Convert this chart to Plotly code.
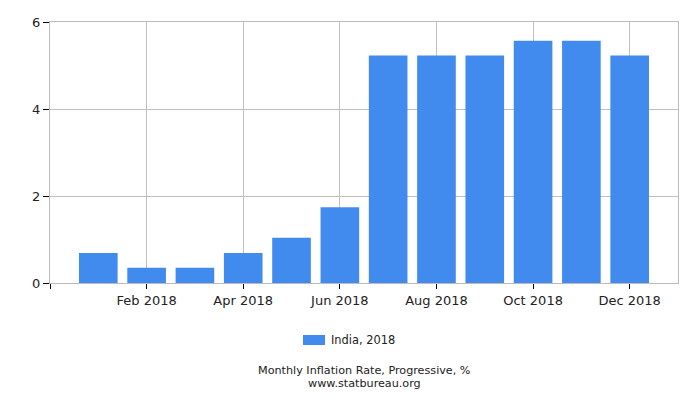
import plotly.graph_objects as go

months = [1, 2, 3, 4, 5, 6, 7, 8, 9, 10, 11, 12]
inflation = [0.69, 0.35, 0.35, 0.69, 1.04, 1.74, 5.23, 5.23, 5.23, 5.57, 5.57, 5.23]
tick_pos = [0, 2, 4, 6, 8, 10, 12]
tick_text = ["", "Feb 2018", "Apr 2018", "Jun 2018", "Aug 2018", "Oct 2018", "Dec 2018"]
bar_color = "#418bee"

fig = go.Figure()
fig.add_trace(go.Bar(x=months, y=inflation, name="India, 2018",
                     marker_color=bar_color, marker_line_width=0,
                     width=0.8, showlegend=False))

# page has an 8px body margin all round, so shrink the figure to fit the window
fig.update_layout(
    width=684, height=384,
    margin=dict(l=42, r=14, t=14, b=109),
    plot_bgcolor="white", paper_bgcolor="white",
    font=dict(family="DejaVu Sans", size=13, color="#222"),
)
fig.update_xaxes(range=[0, 13], tickvals=tick_pos, ticktext=tick_text,
                 showgrid=True, gridcolor="#c0c0c0", gridwidth=1,
                 showline=True, linecolor="#bbbbbb", mirror=True,
                 ticks="outside", ticklen=5, tickcolor="#000", zeroline=False,
                 automargin=False)
fig.update_yaxes(range=[0, 6], tickvals=[0, 2, 4, 6],
                 showgrid=True, gridcolor="#c0c0c0", gridwidth=1,
                 showline=True, linecolor="#bbbbbb", mirror=True,
                 ticks="outside", ticklen=6, tickcolor="#000", zeroline=False,
                 automargin=False)

# legend drawn by hand (wide swatch like the original)
fig.add_shape(type="rect", xref="paper", yref="paper",
              x0=0.4029, x1=0.4379, y0=-0.2375, y1=-0.1992,
              fillcolor=bar_color, line_width=0)
fig.add_annotation(text="India, 2018", xref="paper", yref="paper",
                   x=0.4443, y=-0.2184, xanchor="left", yanchor="middle",
                   showarrow=False, font=dict(size=11.4, color="#222"))

fig.add_annotation(text="Monthly Inflation Rate, Progressive, %",
                   xref="paper", yref="paper", x=0.5, y=-0.335, yanchor="middle",
                   showarrow=False, font=dict(size=11.2, color="#222"))
fig.add_annotation(text="www.statbureau.org",
                   xref="paper", yref="paper", x=0.5, y=-0.385, yanchor="middle",
                   showarrow=False, font=dict(size=11.2, color="#222"))

fig.write_html("out.html")
